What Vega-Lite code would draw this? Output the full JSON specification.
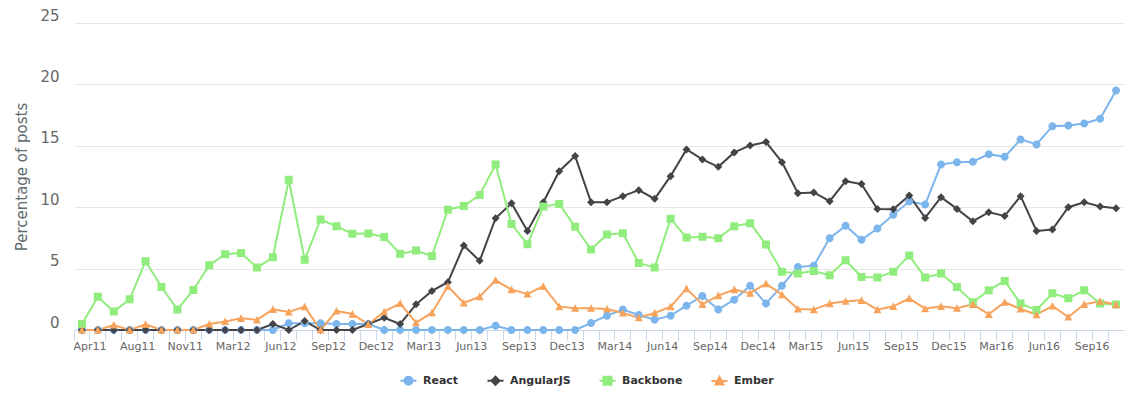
{
"$schema": "https://vega.github.io/schema/vega-lite/v6.json",
"width": 1050, "height": 307,
"autosize": {"type": "none"},
"padding": {"left": 74, "top": 23, "right": 21, "bottom": 69},
"background": "white",
"config": {"view": {"stroke": null}, "font": "DejaVu Sans"},
"data": {"values": [
{"m":"Apr11","s":"React","v":0},{"m":"May11","s":"React","v":0},{"m":"Jul11","s":"React","v":0},{"m":"Aug11","s":"React","v":0},{"m":"Sep11","s":"React","v":0},{"m":"Oct11","s":"React","v":0},{"m":"Nov11","s":"React","v":0},{"m":"Dec11","s":"React","v":0},{"m":"Jan12","s":"React","v":0},{"m":"Mar12","s":"React","v":0},{"m":"Apr12","s":"React","v":0},{"m":"May12","s":"React","v":0},{"m":"Jun12","s":"React","v":0},{"m":"Jul12","s":"React","v":0.54},{"m":"Aug12","s":"React","v":0.54},{"m":"Sep12","s":"React","v":0.54},{"m":"Oct12","s":"React","v":0.49},{"m":"Nov12","s":"React","v":0.49},{"m":"Dec12","s":"React","v":0.49},{"m":"Jan13","s":"React","v":0},{"m":"Feb13","s":"React","v":0},{"m":"Mar13","s":"React","v":0},{"m":"Apr13","s":"React","v":0},{"m":"May13","s":"React","v":0},{"m":"Jun13","s":"React","v":0},{"m":"Jul13","s":"React","v":0},{"m":"Aug13","s":"React","v":0.35},{"m":"Sep13","s":"React","v":0},{"m":"Oct13","s":"React","v":0},{"m":"Nov13","s":"React","v":0},{"m":"Dec13","s":"React","v":0},{"m":"Jan14","s":"React","v":0},{"m":"Feb14","s":"React","v":0.57},{"m":"Mar14","s":"React","v":1.17},{"m":"Apr14","s":"React","v":1.66},{"m":"May14","s":"React","v":1.22},{"m":"Jun14","s":"React","v":0.84},{"m":"Jul14","s":"React","v":1.17},{"m":"Aug14","s":"React","v":1.98},{"m":"Sep14","s":"React","v":2.77},{"m":"Oct14","s":"React","v":1.66},{"m":"Nov14","s":"React","v":2.47},{"m":"Dec14","s":"React","v":3.61},{"m":"Jan15","s":"React","v":2.15},{"m":"Feb15","s":"React","v":3.61},{"m":"Mar15","s":"React","v":5.14},{"m":"Apr15","s":"React","v":5.24},{"m":"May15","s":"React","v":7.47},{"m":"Jun15","s":"React","v":8.48},{"m":"Jul15","s":"React","v":7.34},{"m":"Aug15","s":"React","v":8.26},{"m":"Sep15","s":"React","v":9.38},{"m":"Oct15","s":"React","v":10.46},{"m":"Nov15","s":"React","v":10.22},{"m":"Dec15","s":"React","v":13.48},{"m":"Jan16","s":"React","v":13.67},{"m":"Feb16","s":"React","v":13.7},{"m":"Mar16","s":"React","v":14.32},{"m":"Apr16","s":"React","v":14.1},{"m":"May16","s":"React","v":15.52},{"m":"Jun16","s":"React","v":15.11},{"m":"Jul16","s":"React","v":16.6},{"m":"Aug16","s":"React","v":16.66},{"m":"Sep16","s":"React","v":16.82},{"m":"Oct16","s":"React","v":17.2},{"m":"Nov16","s":"React","v":19.51},
{"m":"Apr11","s":"AngularJS","v":0},{"m":"May11","s":"AngularJS","v":0},{"m":"Jul11","s":"AngularJS","v":0},{"m":"Aug11","s":"AngularJS","v":0},{"m":"Sep11","s":"AngularJS","v":0},{"m":"Oct11","s":"AngularJS","v":0},{"m":"Nov11","s":"AngularJS","v":0},{"m":"Dec11","s":"AngularJS","v":0},{"m":"Jan12","s":"AngularJS","v":0},{"m":"Mar12","s":"AngularJS","v":0},{"m":"Apr12","s":"AngularJS","v":0},{"m":"May12","s":"AngularJS","v":0},{"m":"Jun12","s":"AngularJS","v":0.49},{"m":"Jul12","s":"AngularJS","v":0},{"m":"Aug12","s":"AngularJS","v":0.73},{"m":"Sep12","s":"AngularJS","v":0},{"m":"Oct12","s":"AngularJS","v":0},{"m":"Nov12","s":"AngularJS","v":0},{"m":"Dec12","s":"AngularJS","v":0.49},{"m":"Jan13","s":"AngularJS","v":1.0},{"m":"Feb13","s":"AngularJS","v":0.49},{"m":"Mar13","s":"AngularJS","v":2.09},{"m":"Apr13","s":"AngularJS","v":3.18},{"m":"May13","s":"AngularJS","v":3.89},{"m":"Jun13","s":"AngularJS","v":6.88},{"m":"Jul13","s":"AngularJS","v":5.63},{"m":"Aug13","s":"AngularJS","v":9.1},{"m":"Sep13","s":"AngularJS","v":10.33},{"m":"Oct13","s":"AngularJS","v":8.07},{"m":"Nov13","s":"AngularJS","v":10.4},{"m":"Dec13","s":"AngularJS","v":12.93},{"m":"Jan14","s":"AngularJS","v":14.16},{"m":"Feb14","s":"AngularJS","v":10.4},{"m":"Mar14","s":"AngularJS","v":10.4},{"m":"Apr14","s":"AngularJS","v":10.9},{"m":"May14","s":"AngularJS","v":11.39},{"m":"Jun14","s":"AngularJS","v":10.68},{"m":"Jul14","s":"AngularJS","v":12.53},{"m":"Aug14","s":"AngularJS","v":14.7},{"m":"Sep14","s":"AngularJS","v":13.89},{"m":"Oct14","s":"AngularJS","v":13.29},{"m":"Nov14","s":"AngularJS","v":14.46},{"m":"Dec14","s":"AngularJS","v":15.03},{"m":"Jan15","s":"AngularJS","v":15.3},{"m":"Feb15","s":"AngularJS","v":13.67},{"m":"Mar15","s":"AngularJS","v":11.14},{"m":"Apr15","s":"AngularJS","v":11.2},{"m":"May15","s":"AngularJS","v":10.49},{"m":"Jun15","s":"AngularJS","v":12.12},{"m":"Jul15","s":"AngularJS","v":11.88},{"m":"Aug15","s":"AngularJS","v":9.86},{"m":"Sep15","s":"AngularJS","v":9.84},{"m":"Oct15","s":"AngularJS","v":10.95},{"m":"Nov15","s":"AngularJS","v":9.13},{"m":"Dec15","s":"AngularJS","v":10.82},{"m":"Jan16","s":"AngularJS","v":9.86},{"m":"Feb16","s":"AngularJS","v":8.86},{"m":"Mar16","s":"AngularJS","v":9.59},{"m":"Apr16","s":"AngularJS","v":9.29},{"m":"May16","s":"AngularJS","v":10.9},{"m":"Jun16","s":"AngularJS","v":8.07},{"m":"Jul16","s":"AngularJS","v":8.18},{"m":"Aug16","s":"AngularJS","v":10.0},{"m":"Sep16","s":"AngularJS","v":10.4},{"m":"Oct16","s":"AngularJS","v":10.05},{"m":"Nov16","s":"AngularJS","v":9.92},
{"m":"Apr11","s":"Backbone","v":0.49},{"m":"May11","s":"Backbone","v":2.7},{"m":"Jul11","s":"Backbone","v":1.5},{"m":"Aug11","s":"Backbone","v":2.5},{"m":"Sep11","s":"Backbone","v":5.6},{"m":"Oct11","s":"Backbone","v":3.5},{"m":"Nov11","s":"Backbone","v":1.66},{"m":"Dec11","s":"Backbone","v":3.26},{"m":"Jan12","s":"Backbone","v":5.27},{"m":"Mar12","s":"Backbone","v":6.17},{"m":"Apr12","s":"Backbone","v":6.28},{"m":"May12","s":"Backbone","v":5.08},{"m":"Jun12","s":"Backbone","v":5.92},{"m":"Jul12","s":"Backbone","v":12.23},{"m":"Aug12","s":"Backbone","v":5.73},{"m":"Sep12","s":"Backbone","v":9.0},{"m":"Oct12","s":"Backbone","v":8.45},{"m":"Nov12","s":"Backbone","v":7.83},{"m":"Dec12","s":"Backbone","v":7.85},{"m":"Jan13","s":"Backbone","v":7.58},{"m":"Feb13","s":"Backbone","v":6.2},{"m":"Mar13","s":"Backbone","v":6.47},{"m":"Apr13","s":"Backbone","v":6.03},{"m":"May13","s":"Backbone","v":9.8},{"m":"Jun13","s":"Backbone","v":10.1},{"m":"Jul13","s":"Backbone","v":11.0},{"m":"Aug13","s":"Backbone","v":13.48},{"m":"Sep13","s":"Backbone","v":8.64},{"m":"Oct13","s":"Backbone","v":6.98},{"m":"Nov13","s":"Backbone","v":10.05},{"m":"Dec13","s":"Backbone","v":10.27},{"m":"Jan14","s":"Backbone","v":8.4},{"m":"Feb14","s":"Backbone","v":6.55},{"m":"Mar14","s":"Backbone","v":7.77},{"m":"Apr14","s":"Backbone","v":7.88},{"m":"May14","s":"Backbone","v":5.46},{"m":"Jun14","s":"Backbone","v":5.08},{"m":"Jul14","s":"Backbone","v":9.05},{"m":"Aug14","s":"Backbone","v":7.53},{"m":"Sep14","s":"Backbone","v":7.6},{"m":"Oct14","s":"Backbone","v":7.47},{"m":"Nov14","s":"Backbone","v":8.45},{"m":"Dec14","s":"Backbone","v":8.7},{"m":"Jan15","s":"Backbone","v":6.96},{"m":"Feb15","s":"Backbone","v":4.75},{"m":"Mar15","s":"Backbone","v":4.6},{"m":"Apr15","s":"Backbone","v":4.8},{"m":"May15","s":"Backbone","v":4.46},{"m":"Jun15","s":"Backbone","v":5.68},{"m":"Jul15","s":"Backbone","v":4.32},{"m":"Aug15","s":"Backbone","v":4.27},{"m":"Sep15","s":"Backbone","v":4.75},{"m":"Oct15","s":"Backbone","v":6.06},{"m":"Nov15","s":"Backbone","v":4.27},{"m":"Dec15","s":"Backbone","v":4.6},{"m":"Jan16","s":"Backbone","v":3.5},{"m":"Feb16","s":"Backbone","v":2.26},{"m":"Mar16","s":"Backbone","v":3.23},{"m":"Apr16","s":"Backbone","v":4.0},{"m":"May16","s":"Backbone","v":2.15},{"m":"Jun16","s":"Backbone","v":1.63},{"m":"Jul16","s":"Backbone","v":2.99},{"m":"Aug16","s":"Backbone","v":2.58},{"m":"Sep16","s":"Backbone","v":3.23},{"m":"Oct16","s":"Backbone","v":2.15},{"m":"Nov16","s":"Backbone","v":2.07},
{"m":"Apr11","s":"Ember","v":0},{"m":"May11","s":"Ember","v":0},{"m":"Jul11","s":"Ember","v":0.41},{"m":"Aug11","s":"Ember","v":0},{"m":"Sep11","s":"Ember","v":0.46},{"m":"Oct11","s":"Ember","v":0},{"m":"Nov11","s":"Ember","v":0},{"m":"Dec11","s":"Ember","v":0},{"m":"Jan12","s":"Ember","v":0.49},{"m":"Mar12","s":"Ember","v":0.7},{"m":"Apr12","s":"Ember","v":0.95},{"m":"May12","s":"Ember","v":0.82},{"m":"Jun12","s":"Ember","v":1.68},{"m":"Jul12","s":"Ember","v":1.47},{"m":"Aug12","s":"Ember","v":1.9},{"m":"Sep12","s":"Ember","v":0},{"m":"Oct12","s":"Ember","v":1.55},{"m":"Nov12","s":"Ember","v":1.3},{"m":"Dec12","s":"Ember","v":0.46},{"m":"Jan13","s":"Ember","v":1.49},{"m":"Feb13","s":"Ember","v":2.17},{"m":"Mar13","s":"Ember","v":0.6},{"m":"Apr13","s":"Ember","v":1.41},{"m":"May13","s":"Ember","v":3.56},{"m":"Jun13","s":"Ember","v":2.2},{"m":"Jul13","s":"Ember","v":2.72},{"m":"Aug13","s":"Ember","v":4.05},{"m":"Sep13","s":"Ember","v":3.29},{"m":"Oct13","s":"Ember","v":2.93},{"m":"Nov13","s":"Ember","v":3.56},{"m":"Dec13","s":"Ember","v":1.9},{"m":"Jan14","s":"Ember","v":1.77},{"m":"Feb14","s":"Ember","v":1.77},{"m":"Mar14","s":"Ember","v":1.71},{"m":"Apr14","s":"Ember","v":1.39},{"m":"May14","s":"Ember","v":1.0},{"m":"Jun14","s":"Ember","v":1.39},{"m":"Jul14","s":"Ember","v":1.9},{"m":"Aug14","s":"Ember","v":3.37},{"m":"Sep14","s":"Ember","v":2.09},{"m":"Oct14","s":"Ember","v":2.8},{"m":"Nov14","s":"Ember","v":3.29},{"m":"Dec14","s":"Ember","v":3.0},{"m":"Jan15","s":"Ember","v":3.78},{"m":"Feb15","s":"Ember","v":2.88},{"m":"Mar15","s":"Ember","v":1.71},{"m":"Apr15","s":"Ember","v":1.66},{"m":"May15","s":"Ember","v":2.15},{"m":"Jun15","s":"Ember","v":2.34},{"m":"Jul15","s":"Ember","v":2.42},{"m":"Aug15","s":"Ember","v":1.66},{"m":"Sep15","s":"Ember","v":1.93},{"m":"Oct15","s":"Ember","v":2.58},{"m":"Nov15","s":"Ember","v":1.74},{"m":"Dec15","s":"Ember","v":1.93},{"m":"Jan16","s":"Ember","v":1.77},{"m":"Feb16","s":"Ember","v":2.09},{"m":"Mar16","s":"Ember","v":1.28},{"m":"Apr16","s":"Ember","v":2.26},{"m":"May16","s":"Ember","v":1.71},{"m":"Jun16","s":"Ember","v":1.25},{"m":"Jul16","s":"Ember","v":1.96},{"m":"Aug16","s":"Ember","v":1.06},{"m":"Sep16","s":"Ember","v":2.09},{"m":"Oct16","s":"Ember","v":2.34},{"m":"Nov16","s":"Ember","v":2.07}
]},
"encoding": {
  "x": {"field": "m", "type": "ordinal", "sort": null,
    "scale": {"type": "band", "paddingInner": 0, "paddingOuter": 0},
    "axis": {"title": null, "bandPosition": 0, "labelOffset": 7.95, "labelAngle": 0,
      "labelExpr": "indexof(['Apr11','Aug11','Nov11','Mar12','Jun12','Sep12','Dec12','Mar13','Jun13','Sep13','Dec13','Mar14','Jun14','Sep14','Dec14','Mar15','Jun15','Sep15','Dec15','Mar16','Jun16','Sep16'], datum.value) >= 0 ? datum.value : ''",
      "labelOverlap": false, "labelFont": "DejaVu Sans", "labelFontSize": 11, "labelColor": "#666666", "labelPadding": 0,
      "tickColor": "#ccd6eb", "tickSize": 10, "domainColor": "#ccd6eb", "grid": false}},
  "y": {"field": "v", "type": "quantitative", "scale": {"domain": [0, 25], "nice": false},
    "axis": {"title": "Percentage of posts", "values": [0, 5, 10, 15, 20, 25], "grid": true, "gridColor": "#e6e6e6",
      "domain": false, "ticks": false, "labelFont": "DejaVu Sans", "labelFontSize": 15, "labelColor": "#666666", "labelPadding": 15,
      "labelBaseline": "alphabetic", "labelOffset": -3,
      "titleFont": "DejaVu Sans", "titleFontSize": 15, "titleFontWeight": "normal", "titleColor": "#5e6a6c", "titlePadding": 10}},
  "color": {"field": "s", "type": "nominal",
    "scale": {"domain": ["React", "AngularJS", "Backbone", "Ember"], "range": ["#7cb5ec", "#434348", "#90ed7d", "#f7a35c"]},
    "legend": {"title": null, "orient": "none", "legendX": 329, "legendY": 352, "direction": "horizontal",
      "labelFont": "DejaVu Sans", "labelFontSize": 11, "labelFontWeight": "bold", "labelColor": "#333333",
      "symbolSize": 64, "labelOffset": 9, "columnPadding": 24, "padding": 0, "symbolStrokeWidth": 2, "symbolOpacity": 1,
      "encode": {"symbols": {"update": {"stroke": {"scale": "color", "field": "value"}, "strokeWidth": {"value": 2}, "fill": {"scale": "color", "field": "value"}}}}}}
},
"layer": [
  {"mark": {"type": "line", "strokeWidth": 2}, "encoding": {"order": {"value": null}}},
  {"mark": {"type": "point", "filled": true, "size": 64, "opacity": 1},
   "encoding": {"shape": {"field": "s", "type": "nominal",
     "scale": {"domain": ["React", "AngularJS", "Backbone", "Ember"],
       "range": ["M-2,0H2M1,0A1,1,0,1,1,-1,0A1,1,0,1,1,1,0Z", "M-2,0H2M0,-1L1,0L0,1L-1,0Z", "M-2,0H2M-1,-1H1V1H-1Z", "M-2,0H2M0,-1L1,0.9H-1Z"]},
     "legend": {"title": null}}}}
]
}
